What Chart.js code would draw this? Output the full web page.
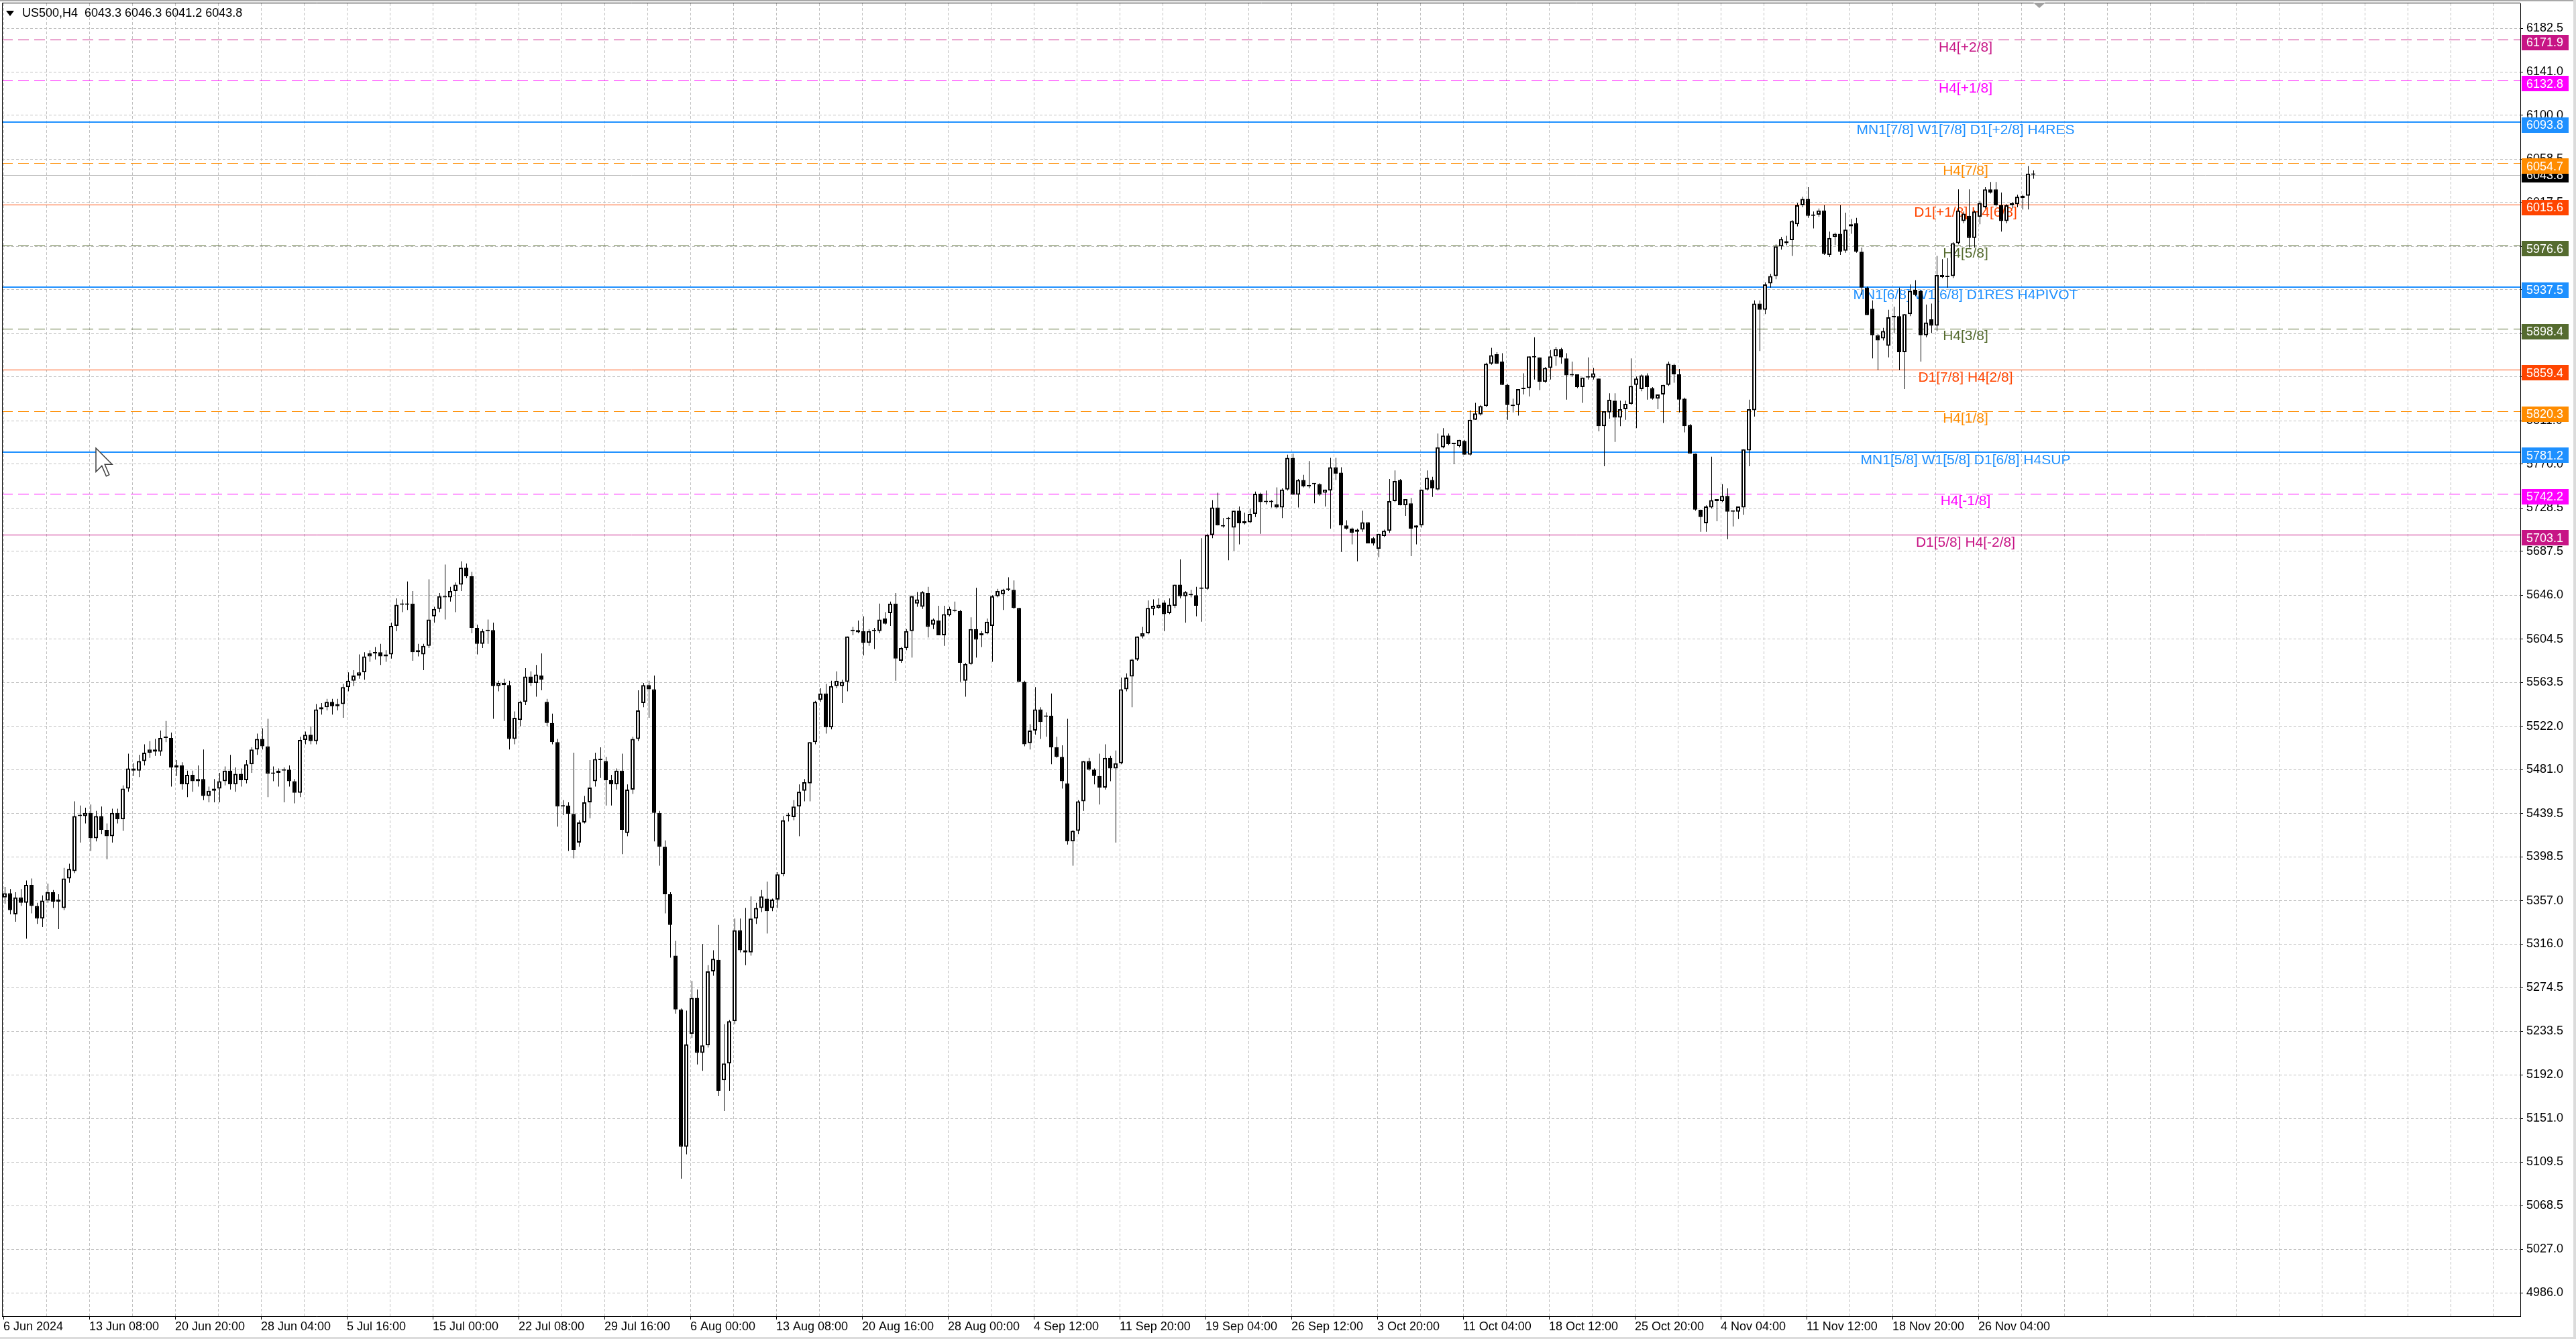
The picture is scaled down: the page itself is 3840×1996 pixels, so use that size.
<!DOCTYPE html>
<html>
<head>
<meta charset="utf-8">
<title>US500,H4</title>
<script src="https://cdn.jsdelivr.net/npm/chart.js@4.4.1/dist/chart.umd.min.js"></script>
<style>
  html, body { margin: 0; padding: 0; background: #ffffff; }
  #wrap { width: 3840px; height: 1996px; position: relative; overflow: hidden; }
  canvas { display: block; }
</style>
</head>
<body>
<div id="wrap"><canvas id="chartUS500" width="3840" height="1996"></canvas></div>
<script>
// Header line and last price
const symbolTitle = 'US500,H4  6043.3 6046.3 6041.2 6043.8';
const lastPrice = 6043.8;

// Time axis labels (one every 32 H4 bars)
const timeLabels = ['6 Jun 2024', '13 Jun 08:00', '20 Jun 20:00', '28 Jun 04:00', '5 Jul 16:00',
  '15 Jul 00:00', '22 Jul 08:00', '29 Jul 16:00', '6 Aug 00:00', '13 Aug 08:00', '20 Aug 16:00',
  '28 Aug 00:00', '4 Sep 12:00', '11 Sep 20:00', '19 Sep 04:00', '26 Sep 12:00', '3 Oct 20:00',
  '11 Oct 04:00', '18 Oct 12:00', '25 Oct 20:00', '4 Nov 04:00', '11 Nov 12:00', '18 Nov 20:00',
  '26 Nov 04:00'];

// Price axis labels
const priceTicks = [6182.5, 6141.0, 6100.0, 6058.5, 6017.5, 5976.0, 5935.0, 5893.5, 5852.5, 5811.0,
  5770.0, 5728.5, 5687.5, 5646.0, 5604.5, 5563.5, 5522.0, 5481.0, 5439.5, 5398.5, 5357.0, 5316.0,
  5274.5, 5233.5, 5192.0, 5151.0, 5109.5, 5068.5, 5027.0, 4986.0];

// Candles (each one spans two H4 bars)
const opens = [
  5360,5364,5344,5360,5355,5372,5352,5340,5357,5365,
  5356,5350,5378,5385,5437,5437,5440,5416,5437,5424,
  5418,5440,5434,5463,5482,5480,5489,5497,5500,5498,
  5511,5511,5483,5485,5467,5476,5470,5472,5456,5461,
  5463,5470,5480,5467,5477,5471,5486,5500,5510,5503,
  5477,5478,5480,5481,5470,5459,5509,5514,5508,5538,
  5540,5545,5541,5543,5559,5565,5570,5573,5588,5591,
  5592,5588,5590,5617,5637,5638,5638,5592,5590,5598,
  5626,5633,5645,5644,5650,5656,5672,5664,5615,5600,
  5612,5613,5560,5563,5561,5510,5528,5545,5569,5563,
  5570,5545,5525,5507,5446,5447,5439,5412,5431,5450,
  5470,5491,5489,5471,5467,5480,5421,5462,5510,5544,
  5561,5557,5440,5408,5363,5305,5254,5124,5231,5265,
  5213,5220,5290,5301,5187,5203,5243,5329,5310,5308,
  5340,5350,5359,5350,5358,5382,5437,5436,5446,5461,
  5468,5507,5547,5553,5521,5560,5560,5564,5612,5613,
  5612,5601,5612,5612,5624,5629,5638,5584,5596,5612,
  5638,5635,5648,5618,5622,5608,5627,5632,5631,5565,
  5581,5614,5608,5610,5617,5645,5647,5651,5651,5634,
  5564,5506,5518,5538,5531,5532,5502,5493,5468,5413,
  5423,5451,5489,5481,5475,5464,5492,5482,5487,5557,
  5569,5585,5607,5610,5633,5634,5639,5629,5636,5656,
  5645,5646,5646,5652,5652,5703,5729,5711,5718,5710,
  5726,5714,5715,5723,5742,5734,5735,5732,5729,5746,
  5776,5741,5755,5749,5751,5751,5743,5745,5767,5762,
  5712,5709,5706,5708,5715,5700,5690,5702,5707,5735,
  5755,5731,5733,5710,5712,5746,5755,5746,5786,5797,
  5789,5787,5792,5779,5812,5817,5825,5865,5874,5867,
  5845,5826,5826,5841,5842,5872,5871,5848,5861,5872,
  5879,5870,5854,5855,5843,5852,5852,5851,5806,5819,
  5830,5814,5822,5827,5845,5841,5854,5842,5832,5836,
  5845,5864,5855,5832,5807,5780,5727,5714,5729,5737,
  5735,5740,5725,5725,5729,5783,5821,5922,5916,5941,
  5948,5976,5981,5982,5997,6015,6021,6005,6006,6010,
  5968,5985,5988,5972,5997,5998,5971,5937,5917,5892,
  5889,5882,5909,5910,5876,5912,5935,5934,5892,5907,
  5901,5949,5947,5948,5979,6000,6005,5984,6004,6013,
  6030,6030,6015,6000,6015,6016,6022,6024,6045
];
const highs = [
  5370,5368,5365,5368,5376,5378,5355,5362,5373,5367,
  5363,5388,5392,5451,5447,5445,5448,5442,5446,5430,
  5444,5444,5466,5496,5487,5495,5505,5508,5510,5518,
  5527,5516,5490,5488,5480,5480,5485,5500,5465,5472,
  5478,5484,5495,5483,5482,5490,5502,5515,5520,5529,
  5484,5482,5483,5485,5472,5512,5517,5522,5543,5544,
  5548,5548,5548,5562,5573,5575,5590,5592,5594,5597,
  5600,5594,5620,5643,5642,5659,5650,5600,5600,5661,
  5635,5648,5675,5654,5658,5678,5676,5668,5618,5614,
  5623,5620,5565,5567,5565,5536,5546,5577,5574,5580,
  5591,5548,5534,5510,5452,5450,5497,5433,5456,5490,
  5497,5502,5493,5476,5482,5496,5467,5512,5556,5563,
  5565,5570,5442,5414,5365,5319,5255,5253,5281,5273,
  5316,5296,5310,5334,5240,5244,5340,5340,5350,5361,
  5355,5367,5375,5359,5384,5437,5440,5452,5467,5472,
  5507,5546,5558,5562,5565,5574,5566,5607,5616,5622,
  5626,5614,5615,5638,5630,5640,5648,5597,5614,5646,
  5649,5650,5654,5624,5636,5636,5635,5640,5632,5582,
  5625,5653,5612,5624,5646,5652,5652,5663,5660,5634,
  5565,5524,5559,5540,5535,5553,5512,5504,5529,5424,
  5452,5489,5492,5482,5496,5505,5494,5499,5568,5572,
  5586,5607,5616,5641,5642,5643,5641,5643,5656,5680,
  5650,5651,5654,5700,5704,5736,5743,5719,5720,5726,
  5730,5724,5728,5744,5743,5745,5736,5748,5747,5779,
  5780,5756,5760,5773,5752,5752,5746,5776,5776,5767,
  5717,5710,5709,5726,5715,5701,5704,5708,5756,5764,
  5756,5737,5738,5712,5746,5764,5758,5799,5804,5799,
  5790,5793,5793,5821,5828,5826,5866,5880,5876,5875,
  5846,5832,5841,5856,5872,5890,5871,5862,5878,5881,
  5880,5875,5867,5855,5852,5871,5861,5851,5820,5837,
  5837,5830,5830,5870,5853,5855,5856,5843,5836,5845,
  5867,5865,5860,5833,5808,5780,5727,5731,5777,5737,
  5751,5747,5726,5730,5784,5831,5925,5925,5942,5950,
  5978,5985,5986,6001,6017,6023,6032,6009,6012,6015,
  5990,5989,6015,6008,6002,6003,5975,5938,5925,5893,
  5899,5916,5919,5937,5912,5940,5944,5935,5921,5922,
  5967,5964,5965,5980,6030,6009,6030,6010,6019,6032,
  6037,6037,6027,6016,6018,6025,6025,6052,6048
];
const lows = [
  5354,5344,5337,5352,5321,5345,5335,5332,5355,5350,
  5330,5348,5374,5383,5412,5430,5404,5413,5420,5396,
  5412,5430,5423,5460,5475,5474,5485,5492,5494,5494,
  5507,5465,5475,5462,5455,5460,5465,5452,5450,5450,
  5450,5466,5462,5460,5465,5468,5478,5495,5500,5455,
  5470,5465,5450,5465,5449,5455,5505,5505,5505,5533,
  5537,5533,5537,5530,5555,5560,5567,5566,5583,5585,
  5580,5583,5586,5612,5630,5632,5584,5588,5575,5596,
  5620,5630,5623,5640,5630,5650,5662,5610,5590,5596,
  5600,5529,5555,5527,5500,5505,5522,5542,5560,5550,
  5556,5522,5505,5427,5438,5404,5397,5408,5430,5435,
  5465,5473,5447,5447,5462,5401,5418,5458,5508,5540,
  5530,5413,5390,5345,5303,5250,5094,5117,5227,5202,
  5196,5218,5286,5172,5158,5177,5240,5308,5296,5305,
  5335,5346,5326,5347,5350,5380,5432,5433,5418,5451,
  5451,5505,5545,5515,5519,5558,5544,5555,5608,5610,
  5589,5598,5595,5610,5618,5617,5565,5582,5594,5587,
  5635,5633,5606,5614,5608,5598,5626,5630,5564,5550,
  5580,5587,5597,5609,5583,5644,5632,5650,5633,5564,
  5503,5500,5514,5510,5512,5486,5492,5463,5410,5390,
  5420,5442,5480,5467,5448,5462,5470,5412,5486,5555,
  5540,5584,5605,5609,5627,5633,5612,5628,5634,5643,
  5620,5644,5626,5621,5651,5700,5712,5710,5679,5688,
  5694,5713,5714,5720,5704,5732,5729,5728,5719,5745,
  5741,5729,5748,5747,5733,5740,5730,5709,5755,5687,
  5708,5694,5678,5706,5695,5693,5682,5701,5705,5734,
  5731,5721,5683,5694,5710,5745,5739,5745,5785,5788,
  5770,5786,5779,5778,5812,5816,5824,5864,5865,5845,
  5812,5819,5816,5836,5834,5850,5840,5847,5850,5863,
  5865,5831,5853,5842,5828,5850,5850,5801,5768,5813,
  5791,5806,5812,5826,5804,5839,5831,5831,5822,5809,
  5844,5847,5819,5800,5780,5726,5706,5706,5728,5716,
  5734,5699,5711,5718,5722,5768,5815,5877,5912,5937,
  5945,5973,5977,5967,5995,6013,6003,5993,6004,5968,
  5966,5977,5968,5970,5988,5970,5930,5911,5870,5859,
  5887,5871,5894,5859,5841,5910,5929,5867,5890,5894,
  5896,5946,5937,5946,5978,5998,5975,5975,5997,6012,
  6026,6014,5990,5998,6012,6013,6011,6011,6040
];
const closes = [
  5364,5348,5360,5355,5372,5352,5340,5357,5365,5356,
  5358,5378,5387,5437,5437,5440,5416,5437,5424,5418,
  5440,5434,5463,5482,5480,5489,5497,5500,5498,5511,
  5511,5483,5485,5467,5476,5470,5472,5456,5461,5463,
  5470,5480,5467,5477,5471,5486,5500,5510,5503,5477,
  5478,5480,5481,5470,5459,5509,5514,5508,5538,5540,
  5545,5541,5543,5559,5565,5570,5573,5588,5591,5592,
  5588,5590,5617,5637,5638,5637,5592,5594,5598,5623,
  5633,5645,5644,5650,5656,5672,5664,5615,5600,5612,
  5613,5560,5563,5561,5510,5530,5545,5569,5563,5571,
  5566,5525,5507,5446,5447,5439,5405,5431,5450,5464,
  5491,5490,5471,5467,5480,5424,5462,5510,5537,5561,
  5557,5440,5408,5363,5334,5254,5124,5221,5265,5213,
  5220,5290,5302,5177,5203,5243,5329,5310,5308,5340,
  5350,5361,5347,5358,5382,5433,5438,5446,5460,5469,
  5507,5545,5553,5521,5560,5565,5564,5607,5612,5611,
  5601,5612,5613,5623,5619,5638,5586,5596,5612,5645,
  5642,5649,5616,5623,5608,5628,5633,5631,5582,5581,
  5614,5604,5610,5621,5645,5650,5651,5651,5634,5564,
  5505,5518,5538,5526,5532,5502,5493,5470,5413,5423,
  5451,5489,5481,5475,5464,5492,5482,5487,5557,5568,
  5585,5607,5610,5634,5636,5637,5628,5637,5656,5645,
  5649,5647,5636,5652,5703,5729,5712,5711,5718,5726,
  5714,5716,5723,5742,5734,5735,5734,5729,5746,5776,
  5741,5755,5749,5750,5751,5741,5746,5767,5761,5712,
  5709,5705,5708,5715,5695,5695,5704,5707,5735,5754,
  5731,5737,5709,5712,5746,5757,5747,5786,5797,5789,
  5790,5793,5779,5812,5818,5825,5865,5873,5865,5845,
  5826,5825,5841,5842,5872,5871,5848,5861,5872,5879,
  5871,5854,5855,5843,5852,5852,5856,5806,5820,5831,
  5814,5822,5827,5844,5851,5854,5843,5832,5836,5845,
  5865,5855,5831,5806,5780,5727,5720,5730,5736,5735,
  5740,5725,5725,5730,5784,5822,5922,5916,5940,5948,
  5976,5983,5979,6000,6015,6021,6005,6006,6010,5969,
  5984,5988,5971,5992,5995,5971,5937,5911,5892,5887,
  5896,5909,5910,5876,5912,5934,5930,5892,5904,5901,
  5949,5947,5948,5979,6010,6007,5984,6009,6017,6030,
  6027,6015,6000,6015,6017,6023,6024,6045,6043.8
];

// Murrey-style levels drawn by the indicator
const levelPrices = [6171.9, 6132.8, 6093.8, 6054.7, 6015.6, 5976.6, 5937.5, 5898.4, 5859.4,
  5820.3, 5781.2, 5742.2, 5703.1];
const levelNames = ['H4[+2/8]', 'H4[+1/8]', 'MN1[7/8] W1[7/8] D1[+2/8] H4RES', 'H4[7/8]',
  'D1[+1/8] H4[6/8]', 'H4[5/8]', 'MN1[6/8] W1[6/8] D1RES H4PIVOT', 'H4[3/8]', 'D1[7/8] H4[2/8]',
  'H4[1/8]', 'MN1[5/8] W1[5/8] D1[6/8] H4SUP', 'H4[-1/8]', 'D1[5/8] H4[-2/8]'];
const levelLabelBar = 731.25; // H4 bar the level names are anchored on

// Styles
const levelColors = ['#c71585', '#ff00ff', '#1e90ff', '#ff8c00', '#ff4500', '#556b2f', '#1e90ff',
  '#556b2f', '#ff4500', '#ff8c00', '#1e90ff', '#ff00ff', '#c71585'];
const levelDashed = [true, true, false, true, false, true, false, true, false, true, false, true, false];
const levelWidths = [1, 1, 2, 1, 1, 1, 2, 1, 1, 1, 2, 1, 1];
const FONT = '"Liberation Sans", Arial, sans-serif';

// x axis is measured in H4 bars; every candle covers two of them
function barPos(i) {
  return i * 2 + 0.5;
}

const bodyData = opens.map((o, i) => ({ x: barPos(i), y: [Math.min(o, closes[i]), Math.max(o, closes[i])] }));
// wicks sit on the pixel centre so a 1px line stays sharp
const wickData = lows.map((l, i) => ({ x: barPos(i) + 0.125, y: [l, highs[i]] }));

// vertical grid every 16 bars
const gridBars = [];
for (let b = 0; b <= 936; b += 16) gridBars.push(b);

const overlayPlugin = {
  id: 'mtOverlay',
  beforeDatasetsDraw(chart) {
    const { ctx, chartArea: a, scales: { x, y } } = chart;
    ctx.save();
    ctx.beginPath();
    ctx.rect(a.left, a.top, a.right - a.left, a.bottom - a.top);
    ctx.clip();

    // last price line
    const py = Math.round(y.getPixelForValue(lastPrice)) + 0.5;
    ctx.strokeStyle = '#c0c0c0';
    ctx.lineWidth = 1;
    ctx.setLineDash([]);
    ctx.beginPath();
    ctx.moveTo(a.left, py);
    ctx.lineTo(a.right, py);
    ctx.stroke();

    levelPrices.forEach((p, i) => {
      const w = levelWidths[i];
      let ly = y.getPixelForValue(p);
      ly = w % 2 ? Math.round(ly) + 0.5 : Math.round(ly);
      ctx.strokeStyle = levelColors[i];
      ctx.lineWidth = w;
      ctx.setLineDash(levelDashed[i] ? [16, 8] : []);
      ctx.beginPath();
      ctx.moveTo(a.left, ly);
      ctx.lineTo(a.right, ly);
      ctx.stroke();
    });
    ctx.setLineDash([]);

    ctx.font = '21px ' + FONT;
    ctx.textAlign = 'center';
    ctx.textBaseline = 'middle';
    const lx = x.getPixelForValue(levelLabelBar);
    levelPrices.forEach((p, i) => {
      ctx.fillStyle = levelColors[i];
      ctx.fillText(levelNames[i], lx, y.getPixelForValue(p) + 12);
    });
    ctx.restore();
  },
  afterDraw(chart) {
    const { ctx, chartArea: a, scales: { y } } = chart;
    ctx.save();

    // price tags on the right axis
    ctx.font = '18px ' + FONT;
    ctx.textAlign = 'left';
    ctx.textBaseline = 'middle';
    function tag(price, color, shift) {
      const cy = y.getPixelForValue(price) + shift;
      ctx.fillStyle = color;
      ctx.fillRect(a.right + 2, Math.round(cy - 11.5), 70, 23);
      ctx.fillStyle = '#ffffff';
      ctx.fillText(price.toFixed(1), a.right + 9, cy + 1);
    }
    tag(lastPrice, '#000000', 0);
    levelPrices.forEach((p, i) => tag(p, levelColors[i], 4.5));

    // window frame
    ctx.fillStyle = '#a8a8a8';
    ctx.fillRect(0, 0, 3840, 2);
    ctx.fillStyle = '#dcdcdc';
    ctx.fillRect(3836, 0, 4, 1996);
    ctx.fillRect(0, 1993, 3840, 3);
    ctx.strokeStyle = '#000000';
    ctx.lineWidth = 1;
    ctx.beginPath();
    ctx.moveTo(a.left + 0.5, a.bottom);
    ctx.lineTo(a.left + 0.5, a.top - 0.5);
    ctx.lineTo(a.right, a.top - 0.5);
    ctx.stroke();

    // chart shift marker
    ctx.fillStyle = '#a0a0a0';
    ctx.beginPath();
    ctx.moveTo(3031, 4);
    ctx.lineTo(3049, 4);
    ctx.lineTo(3040, 12);
    ctx.closePath();
    ctx.fill();

    // header
    ctx.fillStyle = '#000000';
    ctx.beginPath();
    ctx.moveTo(9, 16);
    ctx.lineTo(21, 16);
    ctx.lineTo(15, 24);
    ctx.closePath();
    ctx.fill();
    ctx.font = '18px ' + FONT;
    ctx.textAlign = 'left';
    ctx.textBaseline = 'middle';
    ctx.fillText(symbolTitle, 33, 20);

    // mouse pointer left on the chart
    const pts = [[0, 0], [0, 16], [4, 12], [7, 19], [9, 18], [6, 11], [11, 11]];
    ctx.beginPath();
    pts.forEach((pt, i) => {
      const px = 143 + pt[0] * 2.2;
      const qy = 668 + pt[1] * 2.2;
      if (i === 0) ctx.moveTo(px, qy); else ctx.lineTo(px, qy);
    });
    ctx.closePath();
    ctx.fillStyle = '#ffffff';
    ctx.fill();
    ctx.strokeStyle = '#404040';
    ctx.lineWidth = 1.5;
    ctx.stroke();
    ctx.restore();
  }
};

const ctxChart = document.getElementById('chartUS500');
new Chart(ctxChart, {
  type: 'bar',
  data: {
    datasets: [{
      label: 'body',
      data: bodyData,
      barThickness: 6,
      maxBarThickness: 6,
      grouped: false,
      minBarLength: 2,
      inflateAmount: 0,
      borderSkipped: false,
      borderWidth: 2,
      borderColor: '#000000',
      backgroundColor: function(c) {
        const i = c.dataIndex;
        return closes[i] >= opens[i] ? '#ffffff' : '#000000';
      }
    }, {
      label: 'wick',
      data: wickData,
      barThickness: 1,
      maxBarThickness: 1,
      grouped: false,
      minBarLength: 1,
      inflateAmount: 0,
      borderWidth: 0,
      backgroundColor: '#000000'
    }]
  },
  options: {
    responsive: false,
    maintainAspectRatio: false,
    devicePixelRatio: 1,
    animation: false,
    events: [],
    layout: { padding: { left: 3, top: 5, right: 0, bottom: 0 } },
    plugins: { legend: { display: false }, tooltip: { enabled: false }, title: { display: false } },
    scales: {
      x: {
        type: 'linear',
        position: 'bottom',
        min: -0.5,
        max: 938,
        bounds: 'data',
        offset: false,
        grid: {
          offset: false,
          color: '#c0c0c0',
          lineWidth: 1,
          tickLength: 5,
          tickBorderDash: [],
          tickColor: function(c) {
            return (c.index % 2 === 0 && c.index / 2 < timeLabels.length) ? '#000000' : 'rgba(0,0,0,0)';
          }
        },
        border: { display: true, color: '#000000', width: 1, dash: [4, 3] },
        ticks: {
          autoSkip: false,
          maxRotation: 0,
          minRotation: 0,
          align: 'start',
          padding: 0,
          color: '#000000',
          font: { family: FONT, size: 18 },
          callback: function(v, i) {
            return (i % 2 === 0 && timeLabels[i / 2]) ? timeLabels[i / 2] : '';
          }
        },
        afterBuildTicks: function(s) {
          s.ticks = gridBars.map(v => ({ value: v }));
        },
        afterFit: function(s) {
          s.height = 34;
          s.paddingLeft = 0;
          s.paddingRight = 0;
        }
      },
      y: {
        type: 'linear',
        position: 'right',
        min: 4963.8,
        max: 6206.0,
        bounds: 'data',
        grid: {
          color: '#c0c0c0',
          lineWidth: 1,
          tickLength: 4,
          tickColor: '#000000',
          tickBorderDash: []
        },
        border: { display: true, color: '#000000', width: 1, dash: [4, 3] },
        ticks: {
          autoSkip: false,
          padding: 5,
          color: '#000000',
          font: { family: FONT, size: 18 },
          callback: v => Number(v).toFixed(1)
        },
        afterBuildTicks: function(s) {
          s.ticks = priceTicks.map(v => ({ value: v }));
        },
        afterFit: function(s) {
          s.width = 83;
          s.paddingTop = 0;
          s.paddingBottom = 0;
        }
      }
    }
  },
  plugins: [overlayPlugin]
});
</script>
</body>
</html>
